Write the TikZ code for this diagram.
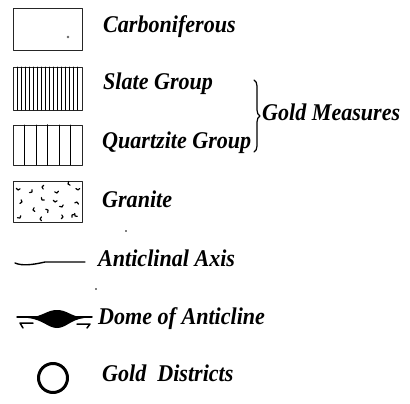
\documentclass[tikz,border=0pt]{standalone}
\usepackage{fontspec}
\setmainfont{Liberation Serif}[FakeStretch=0.92]
\usetikzlibrary{decorations.pathreplacing}
\begin{document}
\begin{tikzpicture}[x=1pt,y=-1pt,line join=round,line cap=round]
	\def\bw{69}\def\bh{42}\def\bx{13}
	\tikzset{b/.style={draw=black!85,line width=1.4pt,rectangle,minimum width=\bw pt,minimum height=\bh pt,inner sep=0pt,anchor=north west},
		t/.style={anchor=base west,inner sep=0pt,font=\fontsize{24}{26}\selectfont\bfseries\itshape}}
	\useasboundingbox (0,0) rectangle (410,404);
	
	\path(\bx,8)node[b](carb){}(\bx,67)node[b,minimum height=43pt](slate){}(\bx,125)node[b,minimum height=40pt](quartz){}(\bx,181)node[b,minimum height=41pt](gran){};
	\fill[black!60](68,37)circle(1.4pt);
	% slate: close lines
	\foreach \i in {1,...,16}{
		\draw[line width=0.9pt](\bx+\i*\bw/17,67)--++(0,43);}
	% quartzite: wide lines
	\foreach \i in {1,...,5}{
		\draw[line width=0.9pt](\bx+\i*\bw/6,125)--++(0,40);}
	\draw[line width=1.4pt](\bx+3*\bw/6,125)--++(0,40);
	% granite marks
	\foreach \x/\y/\a in {18/190/0,32/192/60,42/187/-90,57/193/20,68/184/-60,78/190/10,22/202/80,42/200/-30,55/202/0,77/202/170,33/210/-70,48/210/130,62/207/30,72/215/-120,20/218/40,40/219/-80,63/217/90,75/216/-40}{
		\draw[line width=1.2pt,rotate around={\a:(\x,\y)}](\x-1.8,\y-1.8)--(\x,\y)--(\x+2,\y-1.2);}
	% anticlinal axis
	\draw[line width=1.4pt](15,263)..controls(22,266)and(32,265)..(45,262)--(85,262);
	% dome
	\draw[line width=1.5pt](17,317)--(92,317);
	\fill(28,318)..controls(44,316)and(47,310)..(57,310)..controls(67,310)and(70,316)..(84,318)..controls(70,320)and(66,328)..(57,328)..controls(48,328)and(44,320)..(28,318)--cycle;
	\draw[line width=1.5pt](33,323)--(20,323)--(23,328);
	\draw[line width=1.5pt](77,324)--(90,324)--(87,328);
	% gold districts
	\node[draw,circle,line width=3pt,minimum size=29pt,inner sep=0pt](gd)at(53,378){};
	\fill(126,231)circle(0.8pt)(96,289)circle(0.8pt);
	
	\path(103,33)node[t](tcarb){Carboniferous}
	(103,90)node[t](tslate){Slate Group}
	(102,148)node[t](tquartz){Quartzite Group}
	(102,207)node[t](tgran){Granite}
	(98,266)node[t](taxis){Anticlinal Axis}
	(98,324)node[t](tdome){Dome of Anticline}
	(102,381)node[t](tgd){Gold\ \ Districts};
	\coordinate(bt)at(254,80);\coordinate(bb)at(254,152);
	\draw[line width=1.2pt,decorate,decoration={brace,amplitude=6pt}](bt)--(bb);
	\node[t](gm)at(262,121){Gold Measures};
\end{tikzpicture}
\end{document}
